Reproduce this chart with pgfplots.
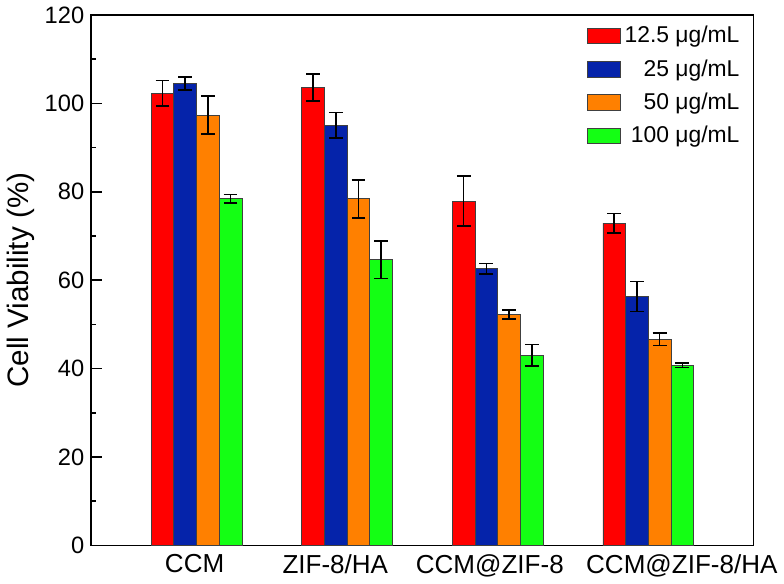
\documentclass[border=0pt]{standalone}
\usepackage{pgfplots}
\pgfplotsset{compat=1.18}
\usepackage{fontspec}
\setmainfont{Liberation Sans}
\definecolor{cred}{RGB}{255,0,0}
\definecolor{cblue}{RGB}{5,35,170}
\definecolor{corange}{RGB}{255,128,0}
\definecolor{cgreen}{RGB}{20,255,20}
\begin{document}
\begin{tikzpicture}
\begin{axis}[
  scale only axis, width=336pt, height=269pt,
  xmin=0.3, xmax=4.7, ymin=0, ymax=120,
  ybar=0pt, bar width=11.5pt,
  every axis plot post/.append style={
    legend image code/.code={\draw[#1,draw=black!75,line width=0.4pt] (0pt,-4pt) rectangle (16.5pt,4pt);}},
  xtick={1,2,3,4},
  xticklabels={CCM\hspace*{2pt}, ZIF-8/HA\hspace*{12pt}, CCM@ZIF-8\hspace*{8pt}, \hspace*{34pt}CCM@ZIF-8/HA},
  x tick style={draw=none},
  xticklabel style={font=\fontsize{13.2}{15}\selectfont, yshift=-1pt},
  ytick={0,20,...,120}, minor y tick num=1,
  tick align=inside, ytick pos=left,
  major tick length=5.3pt, minor tick length=2.7pt,
  axis line style={line width=0.8pt}, y tick style={line width=0.8pt, black},
  yticklabel style={font=\fontsize{12}{14}\selectfont},
  /pgf/number format/assume math mode=true,
  ylabel={Cell Viability (\%)},
  ylabel style={font=\fontsize{15}{17}\selectfont, yshift=-1.5pt},
  legend style={at={(1,1)}, anchor=north east, xshift=-2pt, yshift=-1.5pt,
    draw=none, fill=none, font=\fontsize{11.6}{13.5}\selectfont, row sep=3pt,
    cells={anchor=east}},
  error bars/error bar style={black, line width=0.8pt},
  error bars/error mark options={rotate=90, mark size=3.5pt, black, line width=0.8pt},
]
\addplot[fill=cred, draw=black!75, line width=0.4pt, error bars/.cd, y dir=both, y explicit]
  coordinates {(1,102.3) +- (0,2.9) (2,103.6) +- (0,3.1) (3,77.9) +- (0,5.7) (4,72.9) +- (0,2.2)};
\addlegendentry{12.5 μg/mL}
\addplot[fill=cblue, draw=black!75, line width=0.4pt, error bars/.cd, y dir=both, y explicit]
  coordinates {(1,104.5) +- (0,1.5) (2,95.0) +- (0,2.9) (3,62.6) +- (0,1.2) (4,56.3) +- (0,3.4)};
\addlegendentry{25 μg/mL}
\addplot[fill=corange, draw=black!75, line width=0.4pt, error bars/.cd, y dir=both, y explicit]
  coordinates {(1,97.3) +- (0,4.3) (2,78.4) +- (0,4.3) (3,52.2) +- (0,1.0) (4,46.6) +- (0,1.4)};
\addlegendentry{50 μg/mL}
\addplot[fill=cgreen, draw=black!75, line width=0.4pt, error bars/.cd, y dir=both, y explicit]
  coordinates {(1,78.4) +- (0,1.0) (2,64.6) +- (0,4.2) (3,43.0) +- (0,2.4) (4,40.7) +- (0,0.5)};
\addlegendentry{100 μg/mL}
\end{axis}
\end{tikzpicture}
\end{document}
